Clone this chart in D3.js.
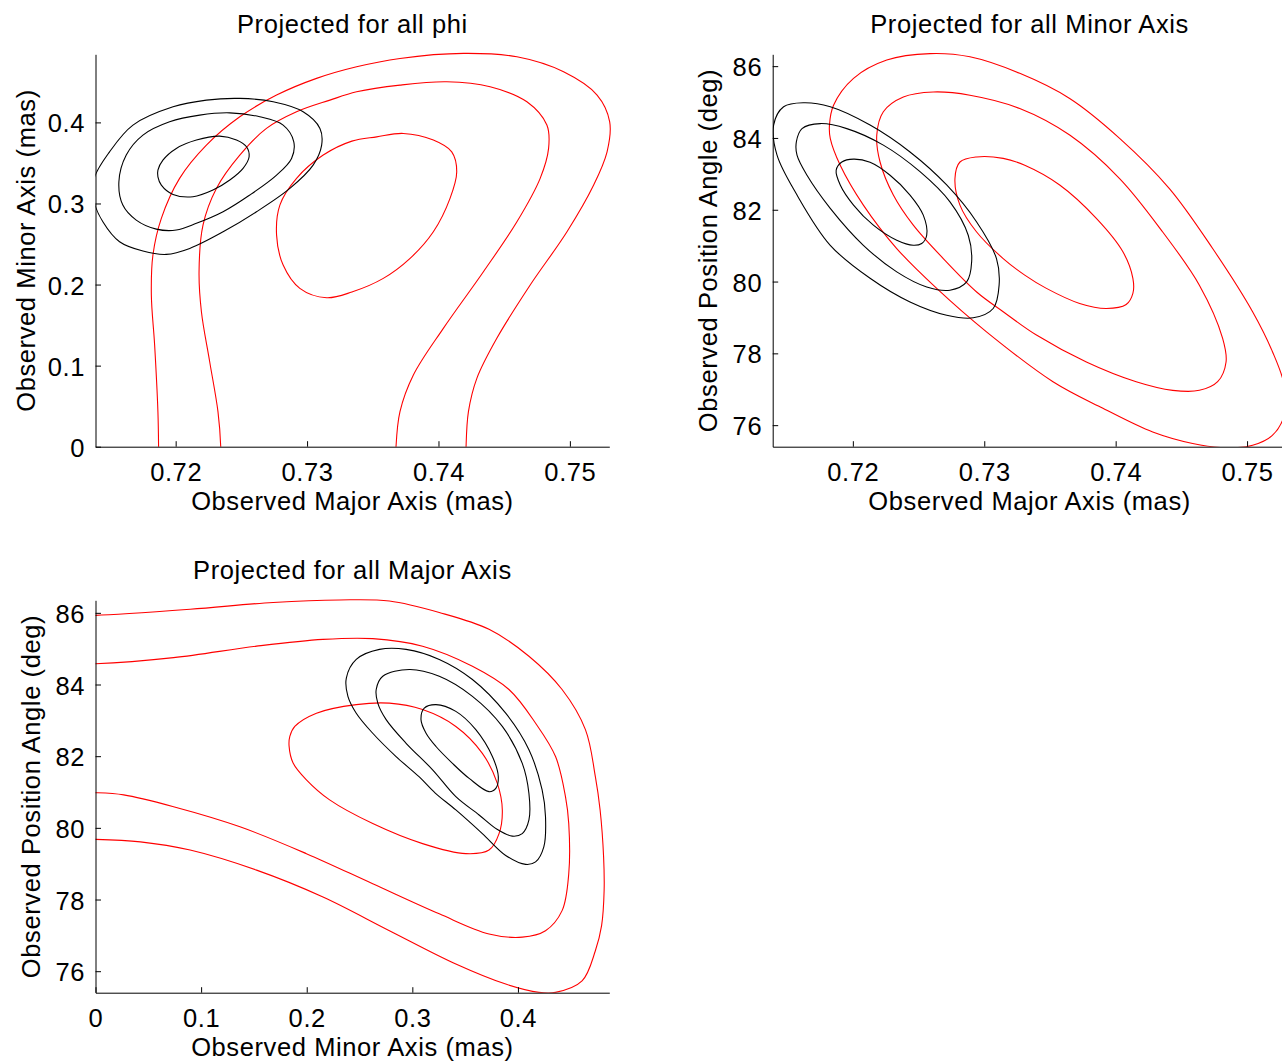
<!DOCTYPE html>
<html><head><meta charset="utf-8">
<script src="https://cdn.jsdelivr.net/npm/d3@7"></script>
<style>body{margin:0;background:#fff;} svg{display:block;}</style>
</head><body><svg id="c" width="1282" height="1064"></svg>
<script>
// ---------- tick values / labels ----------
const majorTicks = [0.72, 0.73, 0.74, 0.75];
const majorTickLabels = ["0.72", "0.73", "0.74", "0.75"];
const minorTicks = [0, 0.1, 0.2, 0.3, 0.4];
const minorTickLabels = ["0", "0.1", "0.2", "0.3", "0.4"];
const paTicks = [76, 78, 80, 82, 84, 86];
const paTickLabels = ["76", "78", "80", "82", "84", "86"];

const titles = ["Projected for all phi", "Projected for all Minor Axis", "Projected for all Major Axis"];
const labelMajor = "Observed Major Axis (mas)";
const labelMinor = "Observed Minor Axis (mas)";
const labelPA = "Observed Position Angle (deg)";

// ---------- Panel 1: major (x) vs minor (y) ----------
const p1BlackOuter = [[0.7138,0.331],[0.71497,0.3637],[0.71675,0.3967],[0.7198,0.4192],[0.72234,0.4275],[0.72488,0.4296],[0.72742,0.4254],[0.7297,0.4131],[0.73098,0.3926],[0.73111,0.372],[0.73046,0.3473],[0.72869,0.3186],[0.72615,0.2898],[0.72361,0.2651],[0.72107,0.2446],[0.71929,0.2372],[0.71751,0.2413],[0.71573,0.2528],[0.71446,0.2774],[0.7138,0.3021]];
const p1BlackMid = [[0.71568,0.3268],[0.71624,0.3597],[0.71751,0.3843],[0.71954,0.4007],[0.72183,0.409],[0.72412,0.4118],[0.7264,0.4069],[0.72818,0.3967],[0.72899,0.3761],[0.72882,0.3556],[0.72768,0.335],[0.72564,0.3104],[0.72361,0.2898],[0.72158,0.2755],[0.72005,0.2672],[0.71853,0.2684],[0.717,0.2795],[0.71598,0.298]];
const p1BlackInner = [[0.71865,0.3412],[0.71903,0.3535],[0.72005,0.3679],[0.72158,0.3782],[0.72335,0.3831],[0.72463,0.3782],[0.72539,0.3699],[0.72559,0.3576],[0.72513,0.3433],[0.72412,0.3289],[0.72284,0.3165],[0.72132,0.3083],[0.7198,0.3112],[0.71891,0.3227],[0.71865,0.3329]];
const p1RedOuter = [[0.7187,-0.01],[0.7187,0],[0.71865,0.0432],[0.7184,0.1254],[0.71815,0.187],[0.71827,0.2364],[0.71891,0.2816],[0.7203,0.331],[0.72234,0.372],[0.72488,0.4069],[0.72768,0.4337],[0.73072,0.4543],[0.73377,0.4686],[0.73707,0.4789],[0.7419,0.4851],[0.74597,0.4809],[0.74952,0.4624],[0.75207,0.4337],[0.75303,0.4007],[0.75283,0.3637],[0.75181,0.3227],[0.74978,0.2651],[0.74698,0.1994],[0.74444,0.1337],[0.74292,0.0843],[0.74228,0.0432],[0.7421,0],[0.7421,-0.01]];
const p1RedMid = [[0.72343,-0.01],[0.72343,0],[0.72322,0.0432],[0.72259,0.1048],[0.72196,0.1665],[0.72178,0.2158],[0.72208,0.2734],[0.7231,0.3186],[0.72488,0.3597],[0.72691,0.3926],[0.7292,0.4131],[0.73174,0.4275],[0.73377,0.4377],[0.73707,0.446],[0.74063,0.4501],[0.74393,0.4439],[0.74673,0.4254],[0.74825,0.3967],[0.74838,0.3679],[0.74774,0.331],[0.74597,0.2774],[0.74342,0.2158],[0.74037,0.146],[0.73809,0.0884],[0.73707,0.0432],[0.73677,0],[0.73677,-0.01]];
const p1RedInner = [[0.73732,0.3864],[0.73961,0.3782],[0.74101,0.3637],[0.74139,0.3391],[0.74088,0.3063],[0.73961,0.2651],[0.73784,0.2323],[0.7358,0.2076],[0.73341,0.1908],[0.73149,0.1837],[0.72945,0.1953],[0.72818,0.224],[0.72768,0.261],[0.72793,0.298],[0.7292,0.331],[0.73123,0.3597],[0.73341,0.3769],[0.7353,0.3822]];

// ---------- Panel 2: major (x) vs position angle (y) ----------
const p2BlackOuter = [[0.71397,84.36],[0.71473,84.87],[0.71625,84.98],[0.71828,84.87],[0.72131,84.36],[0.72435,83.61],[0.72714,82.69],[0.72942,81.66],[0.73093,80.64],[0.73113,79.9],[0.73068,79.25],[0.72916,78.99],[0.72714,79.06],[0.72435,79.43],[0.72131,80.09],[0.71828,81.01],[0.71575,82.41],[0.71423,83.52]];
const p2BlackMid = [[0.7157,83.89],[0.71613,84.26],[0.71752,84.4],[0.71954,84.26],[0.72232,83.8],[0.72511,83.06],[0.72739,82.22],[0.72878,81.29],[0.72904,80.55],[0.72866,79.99],[0.72739,79.76],[0.72562,79.85],[0.72334,80.27],[0.7208,81.01],[0.71828,82.04],[0.71651,82.96],[0.71575,83.52]];
const p2BlackInner = [[0.71873,83.1],[0.71916,83.33],[0.72005,83.41],[0.72131,83.32],[0.72283,82.96],[0.72435,82.41],[0.72536,81.85],[0.72562,81.29],[0.72524,81.06],[0.7246,81.01],[0.72334,81.15],[0.72156,81.57],[0.72005,82.13],[0.71904,82.69]];
const p2RedOuter = [[0.71822,84.36],[0.71853,84.91],[0.72005,85.66],[0.72258,86.17],[0.72587,86.35],[0.72891,86.26],[0.7327,85.8],[0.7365,85.1],[0.7403,83.99],[0.74409,82.59],[0.74738,80.92],[0.75042,79.16],[0.75194,78.04],[0.75283,77.11],[0.75283,76.28],[0.75194,75.72],[0.75042,75.44],[0.7484,75.37],[0.74586,75.49],[0.74282,75.81],[0.73903,76.47],[0.73523,77.21],[0.73017,78.6],[0.72638,79.81],[0.72334,80.92],[0.7208,82.13],[0.71904,83.24],[0.71828,83.99]];
const p2RedMid = [[0.72182,84.08],[0.72232,84.73],[0.72384,85.14],[0.72612,85.28],[0.72891,85.19],[0.7327,84.82],[0.7365,84.08],[0.7403,82.87],[0.74358,81.38],[0.74637,79.9],[0.74814,78.42],[0.7484,77.76],[0.74776,77.21],[0.74637,76.97],[0.74434,76.97],[0.74156,77.21],[0.73777,77.76],[0.73397,78.51],[0.73144,79.16],[0.72942,79.71],[0.72688,80.64],[0.7246,81.57],[0.72308,82.41],[0.72207,83.33]];
const p2RedInner = [[0.72777,82.87],[0.72815,83.33],[0.72942,83.47],[0.73144,83.43],[0.73308,83.24],[0.73574,82.69],[0.73853,81.76],[0.74055,80.83],[0.74131,80.09],[0.74131,79.67],[0.7408,79.36],[0.73929,79.25],[0.73726,79.39],[0.73473,79.81],[0.73308,80.18],[0.73144,80.64],[0.72942,81.38],[0.72815,82.13]];

// ---------- Panel 3: minor (x) vs position angle (y) ----------
const p3RedOuter = [[-0.01,85.93],[0,85.93],[0.0896,86.1],[0.1682,86.29],[0.2311,86.36],[0.2783,86.33],[0.3255,86.01],[0.3726,85.54],[0.4104,84.79],[0.4418,83.86],[0.4639,82.74],[0.4733,81.43],[0.4778,80.5],[0.4811,79.19],[0.4816,78.25],[0.4792,77.27],[0.4733,76.57],[0.4607,75.73],[0.4356,75.41],[0.4198,75.41],[0.3884,75.64],[0.3412,76.2],[0.2783,77.13],[0.2154,78.07],[0.1525,78.82],[0.0896,79.38],[0.0425,79.61],[0,79.68],[-0.01,79.68]];
const p3RedMid = [[-0.01,84.58],[0,84.58],[0.0739,84.75],[0.1525,85.07],[0.2154,85.26],[0.2625,85.28],[0.3097,85.07],[0.3569,84.51],[0.3915,83.86],[0.4167,82.92],[0.4356,81.99],[0.445,80.87],[0.4481,80.12],[0.4481,78.72],[0.4418,77.69],[0.4261,77.13],[0.4041,76.95],[0.3726,77.04],[0.3255,77.6],[0.2625,78.44],[0.1997,79.28],[0.1368,80.03],[0.0739,80.59],[0.0267,80.92],[0,80.98],[-0.01,80.98]];
const p3RedInner = [[0.1887,82.83],[0.2092,83.2],[0.2469,83.44],[0.2783,83.48],[0.3097,83.3],[0.3412,82.83],[0.3663,82.08],[0.3805,81.24],[0.3852,80.5],[0.3821,79.84],[0.3726,79.38],[0.3507,79.28],[0.3097,79.56],[0.2625,80.12],[0.2217,80.78],[0.1997,81.34],[0.1871,81.81],[0.1833,82.28],[0.184,82.55]];
const p3BlackOuter = [[0.239,83.67],[0.2375,84.18],[0.2469,84.7],[0.2689,84.98],[0.2941,84.98],[0.3255,84.7],[0.3569,84.14],[0.3884,83.2],[0.4104,82.18],[0.4229,81.06],[0.4261,80.31],[0.4245,79.47],[0.4167,79.05],[0.4073,78.98],[0.3884,79.23],[0.3663,79.84],[0.3412,80.5],[0.3217,80.97],[0.3066,81.42],[0.2846,81.99],[0.2625,82.64],[0.2469,83.2]];
const p3BlackMid = [[0.2658,83.86],[0.272,84.23],[0.2972,84.42],[0.3255,84.23],[0.3569,83.67],[0.3852,82.83],[0.4041,81.8],[0.4104,80.96],[0.4104,80.22],[0.4041,79.84],[0.3946,79.77],[0.3802,79.96],[0.3632,80.36],[0.3412,80.87],[0.3192,81.62],[0.2941,82.36],[0.2752,83.02],[0.2673,83.48]];
const p3BlackInner = [[0.3082,83.02],[0.3113,83.34],[0.3224,83.44],[0.3412,83.25],[0.3601,82.74],[0.3758,81.99],[0.3814,81.43],[0.3792,81.11],[0.3726,81.01],[0.3538,81.38],[0.338,81.8],[0.3224,82.27],[0.313,82.64]];

// ---------- drawing ----------
const FONT = "'Liberation Sans', Arial, Helvetica, sans-serif";
const FS = 25.5;
const LS = 0.6;
const svg = d3.select("#c");

const panels = [
  { left: 95.5, right: 609.3, top: 54.3, bottom: 446.7,
    xDomain: [0.7139, 0.7530], yDomain: [0, 0.484],
    xTicks: majorTicks, xTickLabels: majorTickLabels,
    yTicks: minorTicks, yTickLabels: minorTickLabels,
    title: titles[0], xLabel: labelMajor, yLabel: labelMinor, yLabelOffset: 61,
    red: [[p1RedOuter,false],[p1RedMid,false],[p1RedInner,true]],
    black: [p1BlackOuter, p1BlackMid, p1BlackInner] },
  { left: 772.7, right: 1286.5, top: 54.3, bottom: 446.7,
    xDomain: [0.7139, 0.7530], yDomain: [75.40, 86.33],
    xTicks: majorTicks, xTickLabels: majorTickLabels,
    yTicks: paTicks, yTickLabels: paTickLabels,
    title: titles[1], xLabel: labelMajor, yLabel: labelPA, yLabelOffset: 56,
    red: [[p2RedOuter,true],[p2RedMid,true],[p2RedInner,true]],
    black: [p2BlackOuter, p2BlackMid, p2BlackInner] },
  { left: 95.5, right: 609.3, top: 600.3, bottom: 992.7,
    xDomain: [0, 0.4865], yDomain: [75.40, 86.35],
    xTicks: minorTicks, xTickLabels: minorTickLabels,
    yTicks: paTicks, yTickLabels: paTickLabels,
    title: titles[2], xLabel: labelMinor, yLabel: labelPA, yLabelOffset: 56,
    red: [[p3RedOuter,false],[p3RedMid,false],[p3RedInner,true]],
    black: [p3BlackOuter, p3BlackMid, p3BlackInner] }
];

panels.forEach((p, i) => {
  const xs = d3.scaleLinear().domain(p.xDomain).range([p.left, p.right]);
  const ys = d3.scaleLinear().domain(p.yDomain).range([p.bottom, p.top]);
  const g = svg.append("g");
  const clipId = "clip" + i;
  svg.append("clipPath").attr("id", clipId).append("rect")
    .attr("x", p.left).attr("y", p.top - 3)
    .attr("width", p.right - p.left + 3).attr("height", p.bottom - p.top + 3);

  const plot = g.append("g").attr("clip-path", `url(#${clipId})`);
  const lineOpen = d3.line().x(d => xs(d[0])).y(d => ys(d[1])).curve(d3.curveCatmullRom.alpha(0.5));
  const lineClosed = d3.line().x(d => xs(d[0])).y(d => ys(d[1])).curve(d3.curveCatmullRomClosed.alpha(0.5));

  p.red.forEach(([pts, closed]) => {
    plot.append("path").attr("d", (closed ? lineClosed : lineOpen)(pts))
      .attr("fill", "none").attr("stroke", "#ff0000").attr("stroke-width", 1.1);
  });
  p.black.forEach(pts => {
    plot.append("path").attr("d", lineClosed(pts))
      .attr("fill", "none").attr("stroke", "#000").attr("stroke-width", 1.1);
  });

  // x axis
  const xa = g.append("g").attr("transform", `translate(0,${p.bottom})`)
    .call(d3.axisBottom(xs).tickValues(p.xTicks)
      .tickFormat((d, j) => p.xTickLabels[j]).tickSize(-5.5).tickSizeOuter(0));
  xa.attr("font-family", FONT).attr("font-size", FS).attr("color", "#000");
  xa.selectAll(".tick text").attr("y", 34).attr("dy", null).attr("letter-spacing", LS);
  xa.selectAll("path.domain, .tick line").attr("stroke-width", 1);

  // y axis
  const ya = g.append("g").attr("transform", `translate(${p.left},0)`)
    .call(d3.axisLeft(ys).tickValues(p.yTicks)
      .tickFormat((d, j) => p.yTickLabels[j]).tickSize(-5.5).tickSizeOuter(0));
  ya.attr("font-family", FONT).attr("font-size", FS).attr("color", "#000");
  ya.selectAll(".tick text").attr("x", -10.5).attr("dy", null).attr("y", 9.5).attr("letter-spacing", LS);
  ya.selectAll("path.domain, .tick line").attr("stroke-width", 1);

  const cx = (p.left + p.right) / 2;
  const cy = (p.top + p.bottom) / 2;
  g.append("text").attr("x", cx).attr("y", p.top - 21.5)
    .attr("text-anchor", "middle").attr("font-family", FONT).attr("font-size", FS)
    .attr("letter-spacing", LS).text(p.title);
  g.append("text").attr("x", cx).attr("y", p.bottom + 63.5)
    .attr("text-anchor", "middle").attr("font-family", FONT).attr("font-size", FS)
    .attr("letter-spacing", LS).text(p.xLabel);
  g.append("text").attr("transform", `translate(${p.left - p.yLabelOffset},${cy}) rotate(-90)`)
    .attr("text-anchor", "middle").attr("font-family", FONT).attr("font-size", FS)
    .attr("letter-spacing", LS).text(p.yLabel);
});
</script></body></html>
